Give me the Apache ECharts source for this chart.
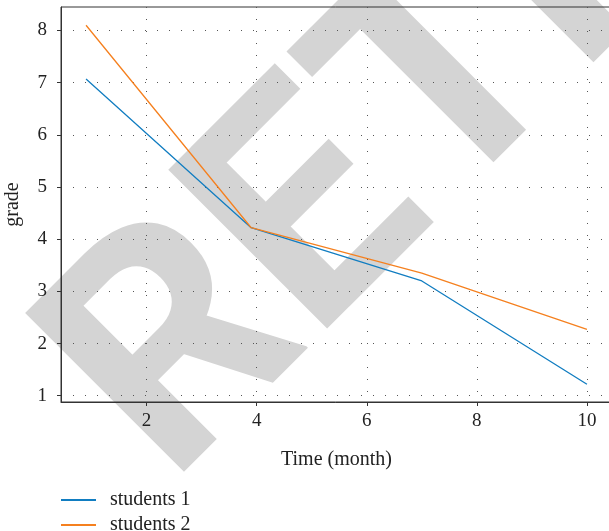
<!DOCTYPE html>
<html>
<head>
<meta charset="utf-8">
<script src="https://cdn.jsdelivr.net/npm/echarts@6/dist/echarts.min.js"></script>
<style>
  html, body { margin: 0; padding: 0; background: #fff; }
  #chart { width: 609px; height: 531px; }
</style>
</head>
<body>
<div id="chart"></div>
<script>
// months where the grades were taken
const months = [0.9, 3.9, 7, 10]
const students1 = [7.07, 4.22, 3.2, 1.22]
const students2 = [8.1, 4.22, 3.35, 2.27]
const seriesNames = ['students 1', 'students 2']
const xTicks = [2, 4, 6, 8, 10]
const yTicks = [1, 2, 3, 4, 5, 6, 7, 8]

const serif = '"Liberation Serif", "DejaVu Serif", serif'
const axisColor = '#333'
const textColor = '#222'

function pairs(xs, ys) {
  return xs.map((x, i) => [x, ys[i]])
}

const chart = echarts.init(document.getElementById('chart'))

const option = {
  animation: false,
  backgroundColor: '#fff',
  textStyle: { fontFamily: serif },
  graphic: [
    {
      type: 'text',
      z: -10,
      x: 114,
      y: 430,
      rotation: Math.PI / 4,
      silent: true,
      style: {
        text: 'RETRACTED',
        fill: '#d4d4d4',
        font: 'bold 316px Roboto, "Open Sans", sans-serif',
        textAlign: 'left',
        textVerticalAlign: 'middle'
      }
    }
  ],
  grid: {
    left: 61,
    top: 7,
    width: 551,
    height: 395,
    outerBoundsMode: 'none',
    containLabel: false,
    show: true,
    borderColor: axisColor,
    borderWidth: 1,
    backgroundColor: 'transparent'
  },
  legend: {
    data: seriesNames,
    orient: 'vertical',
    left: 61,
    top: 490,
    height: 60,
    padding: 0,
    itemWidth: 35,
    itemHeight: 2,
    itemGap: 5,
    icon: 'rect',
    textStyle: { fontFamily: serif, fontSize: 20, color: textColor, padding: [0, 0, 0, 9] }
  },
  xAxis: {
    type: 'value',
    min: 0.445,
    max: 10.455,
    name: 'Time (month)',
    nameLocation: 'middle',
    nameGap: 48,
    nameTextStyle: { fontFamily: serif, fontSize: 20, color: textColor },
    axisLine: { show: true, lineStyle: { color: axisColor, width: 1 } },
    axisTick: { show: true, inside: false, length: 4, customValues: xTicks, lineStyle: { color: axisColor } },
    axisLabel: {
      customValues: xTicks,
      margin: 10,
      fontFamily: serif,
      fontSize: 19,
      color: textColor
    },
    splitLine: { show: true, lineStyle: { color: '#555', width: 1, type: [1, 11] } }
  },
  yAxis: {
    type: 'value',
    min: 0.88,
    max: 8.45,
    name: 'grade',
    nameLocation: 'middle',
    nameGap: 38,
    nameRotate: 90,
    nameTextStyle: { fontFamily: serif, fontSize: 20, color: textColor },
    axisLine: { show: true, lineStyle: { color: axisColor, width: 1 } },
    axisTick: { show: true, inside: false, length: 4, customValues: yTicks, lineStyle: { color: axisColor } },
    axisLabel: {
      customValues: yTicks,
      margin: 14,
      fontFamily: serif,
      fontSize: 19,
      color: textColor
    },
    splitLine: { show: true, lineStyle: { color: '#555', width: 1, type: [1, 11] } }
  },
  series: [
    {
      name: seriesNames[0],
      type: 'line',
      data: pairs(months, students1),
      symbol: 'none',
      lineStyle: { color: '#117dc1', width: 1.3 },
      itemStyle: { color: '#117dc1' }
    },
    {
      name: seriesNames[1],
      type: 'line',
      data: pairs(months, students2),
      symbol: 'none',
      lineStyle: { color: '#f5801f', width: 1.3 },
      itemStyle: { color: '#f5801f' }
    }
  ]
}

chart.setOption(option)
</script>
</body>
</html>
